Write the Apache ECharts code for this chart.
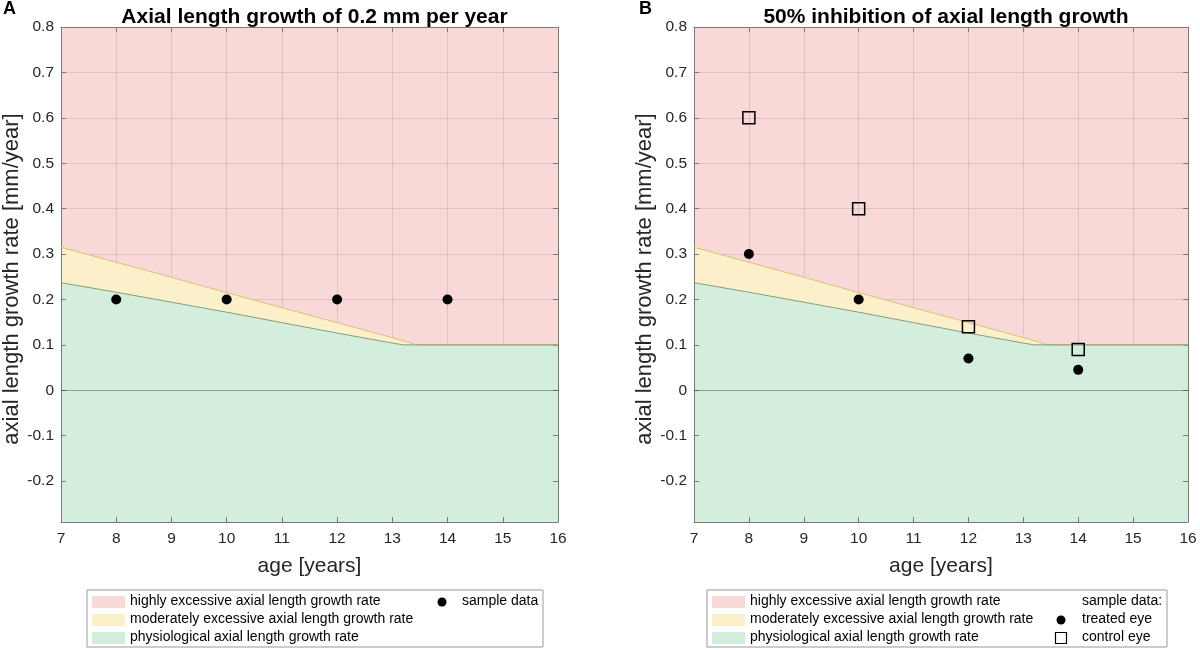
<!DOCTYPE html>
<html>
<head>
<meta charset="utf-8">
<title>Axial length growth rate</title>
<script src="https://cdn.jsdelivr.net/npm/echarts@6/dist/echarts.min.js"></script>
<style>
html, body { margin: 0; padding: 0; background: #fff; }
#chart { width: 1200px; height: 650px; }
</style>
</head>
<body>
<div id="chart"></div>
<script type="text/javascript">
// zone boundaries (age in years, growth rate in mm/year)
var boundaryAge = [7, 8, 9, 10, 11, 12, 13, 13.2, 13.45, 16];
var physiologicalTop = [0.237, 0.216, 0.194, 0.172, 0.149, 0.126, 0.104, 0.100, 0.100, 0.100];
var moderateTop = [0.315, 0.282, 0.249, 0.215, 0.182, 0.149, 0.116, 0.109, 0.100, 0.100];

// sample measurements
var sampleAge = [8, 10, 12, 14];
var sampleA = [0.2, 0.2, 0.2, 0.2];
var treatedB = [0.3, 0.2, 0.07, 0.045];
var controlB = [0.6, 0.4, 0.14, 0.09];

var panelTitles = ['Axial length growth of 0.2 mm per year', '50% inhibition of axial length growth'];
var panelLetters = ['A', 'B'];

var font = "'Liberation Sans', Arial, sans-serif";
var redFill = '#f9d9d7';
var yellowFill = '#fcf0ca';
var greenFill = '#d3eedd';
var yellowLine = '#dcc074';
var greenLine = '#7f9f82';
var axisColor = '#7a7a7a';
var gridColor = 'rgba(38,38,38,0.12)';

function pairs(xs, ys) {
    return xs.map(function (x, i) { return [x, ys[i]]; });
}

var grids = [
    { left: 61, top: 27, width: 497, height: 495 },
    { left: 694, top: 27, width: 494, height: 495 }
];

var xAxes = [], yAxes = [], series = [], titles = [];

grids.forEach(function (g, i) {
    g.show = true;
    g.backgroundColor = redFill;
    g.borderWidth = 0;

    xAxes.push({
        gridIndex: i, type: 'value', min: 7, max: 16, interval: 1, position: 'bottom', z: 3,
        axisLine: { show: true, onZero: false, lineStyle: { color: axisColor } },
        axisTick: { inside: true, length: 5, lineStyle: { color: axisColor } },
        axisLabel: { color: '#262626', fontSize: 15.5, fontFamily: font, margin: 9 },
        splitLine: { show: true, lineStyle: { color: gridColor } },
        name: 'age [years]', nameLocation: 'middle', nameGap: 34,
        nameTextStyle: { color: '#262626', fontSize: 21, fontFamily: font }
    });
    xAxes.push({
        gridIndex: i, type: 'value', min: 7, max: 16, interval: 1, position: 'top', z: 3,
        axisLine: { show: true, onZero: false, lineStyle: { color: axisColor } },
        axisTick: { inside: true, length: 5, lineStyle: { color: axisColor } },
        axisLabel: { show: false },
        splitLine: { show: false }
    });
    yAxes.push({
        gridIndex: i, type: 'value', min: -0.29, max: 0.8, splitNumber: 11, position: 'left', z: 3,
        axisLine: { show: true, onZero: false, lineStyle: { color: axisColor } },
        axisTick: { inside: true, length: 5, lineStyle: { color: axisColor } },
        axisLabel: {
            color: '#262626', fontSize: 15.5, fontFamily: font, margin: 7, showMinLabel: false,
            formatter: function (v) {
                var t = Math.round(v * 10);
                return Math.abs(v * 10 - t) < 1e-6 ? String(t / 10) : '';
            }
        },
        splitLine: { show: true, lineStyle: { color: gridColor } },
        name: 'axial length growth rate [mm/year]', nameLocation: 'middle', nameGap: 36,
        nameTextStyle: { color: '#262626', fontSize: 22, fontFamily: font, padding: [0, 9, 0, 0] }
    });
    yAxes.push({
        gridIndex: i, type: 'value', min: -0.29, max: 0.8, splitNumber: 11, position: 'right', z: 3,
        axisLine: { show: true, onZero: false, lineStyle: { color: axisColor } },
        axisTick: { inside: true, length: 5, lineStyle: { color: axisColor } },
        axisLabel: { show: false },
        splitLine: { show: false }
    });

    var xi = i * 2, yi = i * 2;
    series.push({
        name: 'moderately excessive axial length growth rate', type: 'line',
        xAxisIndex: xi, yAxisIndex: yi, data: pairs(boundaryAge, moderateTop),
        symbol: 'none', silent: true,
        lineStyle: { color: yellowLine, width: 1 },
        areaStyle: { color: yellowFill, opacity: 1, origin: 'start' }
    });
    series.push({
        name: 'physiological axial length growth rate', type: 'line',
        xAxisIndex: xi, yAxisIndex: yi, data: pairs(boundaryAge, physiologicalTop),
        symbol: 'none', silent: true,
        lineStyle: { color: greenLine, width: 1 },
        areaStyle: { color: greenFill, opacity: 1, origin: 'start' },
        markLine: {
            silent: true, symbol: 'none', label: { show: false },
            lineStyle: { color: 'rgba(60,60,60,0.45)', width: 1, type: 'solid' },
            data: [{ yAxis: 0 }]
        }
    });

    titles.push({
        text: panelTitles[i], left: g.left + g.width / 2, top: 2, textAlign: 'center',
        textStyle: { color: '#000', fontSize: 21, fontWeight: 'bold', fontFamily: font }
    });
});

series.push({
    name: 'sample data', type: 'scatter', xAxisIndex: 0, yAxisIndex: 0, z: 5,
    data: pairs(sampleAge, sampleA), symbol: 'circle', symbolSize: 10,
    itemStyle: { color: '#000', opacity: 1 }
});
series.push({
    name: 'treated eye', type: 'scatter', xAxisIndex: 2, yAxisIndex: 2, z: 5,
    data: pairs(sampleAge, treatedB), symbol: 'circle', symbolSize: 10,
    itemStyle: { color: '#000', opacity: 1 }
});
series.push({
    name: 'control eye', type: 'scatter', xAxisIndex: 2, yAxisIndex: 2, z: 5,
    data: pairs(sampleAge, controlB), symbol: 'rect', symbolSize: 12,
    itemStyle: { color: 'rgba(0,0,0,0)', borderColor: '#000', borderWidth: 1.5, opacity: 1 }
});

// legend boxes
function legendText(x, y, s) {
    return { type: 'text', left: x, top: y - 8, style: { text: s, fill: '#000', font: '14px ' + font } };
}
function swatch(x, y, c) {
    return { type: 'rect', shape: { x: x, y: y - 6, width: 33, height: 12 }, style: { fill: c } };
}
var rows = [602, 620, 638];
var zoneNames = ['highly excessive axial length growth rate', 'moderately excessive axial length growth rate', 'physiological axial length growth rate'];
var zoneColors = [redFill, yellowFill, greenFill];
var graphics = [];

[[87, 456], [707, 460]].forEach(function (box) {
    graphics.push({ type: 'rect', shape: { x: box[0], y: 590, width: box[1], height: 57 },
        style: { fill: '#fff', stroke: '#9a9a9a', lineWidth: 1 } });
    rows.forEach(function (r, k) {
        graphics.push(swatch(box[0] + 5, r, zoneColors[k]));
        graphics.push(legendText(box[0] + 43, r, zoneNames[k]));
    });
});
graphics.push({ type: 'circle', shape: { cx: 442, cy: 602, r: 4.5 }, style: { fill: '#000' } });
graphics.push(legendText(462, 602, 'sample data'));
graphics.push(legendText(1082, 602, 'sample data:'));
graphics.push({ type: 'circle', shape: { cx: 1061, cy: 620, r: 4.5 }, style: { fill: '#000' } });
graphics.push(legendText(1082, 620, 'treated eye'));
graphics.push({ type: 'rect', shape: { x: 1055.5, y: 632.5, width: 11, height: 11 },
    style: { fill: 'none', stroke: '#000', lineWidth: 1.2 } });
graphics.push(legendText(1082, 638, 'control eye'));

panelLetters.forEach(function (l, i) {
    graphics.push({ type: 'text', left: i === 0 ? 3 : 639, top: 0,
        style: { text: l, fill: '#000', font: 'bold 18px ' + font } });
});

var chart = echarts.init(document.getElementById('chart'));
chart.setOption({
    animation: false,
    backgroundColor: '#fff',
    title: titles,
    grid: grids,
    xAxis: xAxes,
    yAxis: yAxes,
    series: series,
    graphic: graphics
});
</script>
</body>
</html>
